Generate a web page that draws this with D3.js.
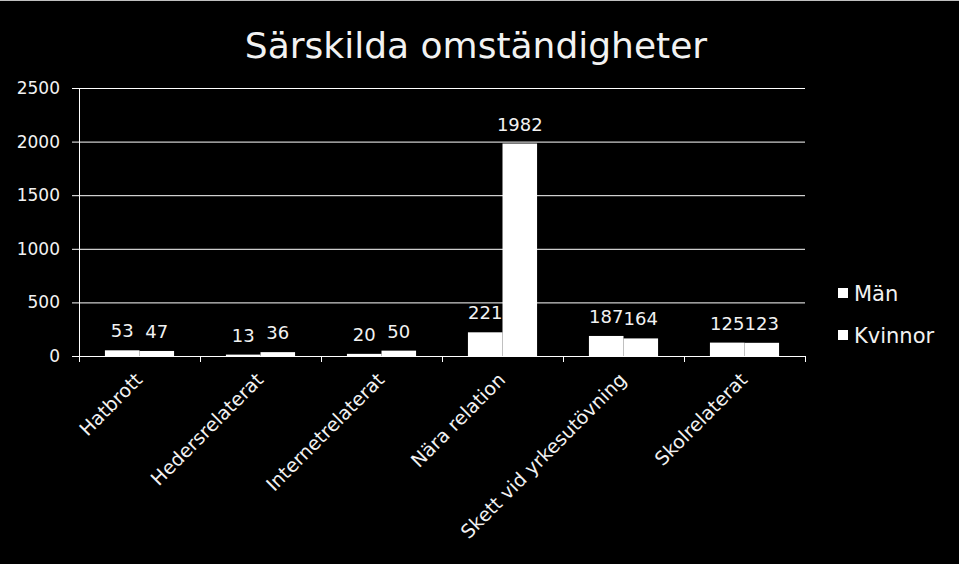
<!DOCTYPE html>
<html>
<head>
<meta charset="utf-8">
<script src="https://cdn.jsdelivr.net/npm/d3@7/dist/d3.min.js"></script>
<style>
  html, body { margin: 0; padding: 0; background: #000; }
  svg { display: block; }
  text { font-family: "DejaVu Sans", "Lato", sans-serif; fill: #f2f2f2; }
</style>
</head>
<body>
<svg id="chart" width="959" height="564"></svg>
<script>
// data
const categories = ["Hatbrott", "Hedersrelaterat", "Internetrelaterat", "Nära relation", "Skett vid yrkesutövning", "Skolrelaterat"]
const seriesNames = ["Män", "Kvinnor"]
const man = [53, 13, 20, 221, 187, 125]
const kvinnor = [47, 36, 50, 1982, 164, 123]
const yTicks = [0, 500, 1000, 1500, 2000, 2500]

const svg = d3.select('#chart')
const W = 959, H = 564
const margin = {top: 88, left: 79, right: 154, bottom: 208}
const width = W - margin.left - margin.right,
      height = H - margin.top - margin.bottom

svg.append('rect').attr('width', W).attr('height', H).attr('fill', '#000')
svg.append('line').attr('x1', 0).attr('x2', W).attr('y1', 0.5).attr('y2', 0.5)
  .attr('stroke', '#bfbfbf').attr('stroke-width', 1)

svg.append('text')
  .attr('x', 476).attr('y', 58)
  .attr('text-anchor', 'middle')
  .style('font-size', '36px')
  .text('Särskilda omständigheter')

const g = svg.append('g').attr('transform', `translate(${margin.left},${margin.top})`)

const x = d3.scaleBand().domain(categories).range([0, width])
const xi = d3.scaleBand().domain(seriesNames).range([0, x.bandwidth()]).paddingInner(0).paddingOuter(0.75)
const y = d3.scaleLinear().domain([0, 2500]).range([height, 0])

// gridlines
g.append('g')
  .call(d3.axisLeft(y).tickValues(yTicks).tickSize(-width - 7).tickFormat(''))
  .attr('transform', 'translate(-7,0)')
  .call(s => s.select('.domain').remove())
  .selectAll('line').attr('stroke', '#fff').attr('stroke-width', 1)

// y tick labels
g.append('g')
  .call(d3.axisLeft(y).tickValues(yTicks).tickSize(0).tickPadding(19).tickFormat(d3.format('d')))
  .call(s => s.select('.domain').remove())
  .selectAll('text').style('font-size', '17px').attr('fill', '#f2f2f2')

// y axis line
g.append('line').attr('x1', 0.5).attr('x2', 0.5).attr('y1', 0).attr('y2', height + 6)
  .attr('stroke', '#fff')

// x axis
const xAxis = g.append('g').attr('transform', `translate(0,${height})`)
  .call(d3.axisBottom(x).tickSize(0).tickFormat(''))
xAxis.select('.domain').attr('stroke', '#fff')
xAxis.selectAll('.tick').remove()
g.append('g').selectAll('line')
  .data(d3.range(categories.length + 1))
  .join('line')
  .attr('x1', i => i * x.step() + 0.5).attr('x2', i => i * x.step() + 0.5)
  .attr('y1', height).attr('y2', height + 6)
  .attr('stroke', '#fff')

// bars
const rows = categories.map((c, i) => ({cat: c, vals: [man[i], kvinnor[i]]}))
const grp = g.selectAll('.grp').data(rows).join('g')
  .attr('class', 'grp')
  .attr('transform', d => `translate(${x(d.cat)},0)`)

grp.selectAll('rect')
  .data(d => d.vals.map((v, j) => ({s: seriesNames[j], v})))
  .join('rect')
  .attr('x', d => xi(d.s))
  .attr('y', d => y(d.v))
  .attr('width', xi.bandwidth())
  .attr('height', d => height - y(d.v))
  .attr('fill', '#fff')

grp.selectAll('.lbl')
  .data(d => d.vals.map((v, j) => ({s: seriesNames[j], v})))
  .join('text')
  .attr('class', 'lbl')
  .attr('x', d => xi(d.s) + xi.bandwidth() / 2)
  .attr('y', d => y(d.v) - 13)
  .attr('text-anchor', 'middle')
  .style('font-size', '18px')
  .text(d => d.v)

// category labels
g.append('g').selectAll('text')
  .data(categories)
  .join('text')
  .attr('text-anchor', 'end')
  .attr('transform', d => `translate(${x(d) + x.bandwidth() / 2 + 4},${height + 25}) rotate(-45)`)
  .style('font-size', '19px')
  .text(d => d)

// legend
const leg = svg.append('g').attr('transform', 'translate(838,0)')
const legY = [293, 335]
seriesNames.forEach((s, i) => {
  leg.append('rect').attr('x', 0).attr('y', legY[i] - 5).attr('width', 10).attr('height', 10).attr('fill', '#fff')
  leg.append('text').attr('x', 16).attr('y', legY[i] + 8).style('font-size', '21px').text(s)
})
</script>
</body>
</html>
